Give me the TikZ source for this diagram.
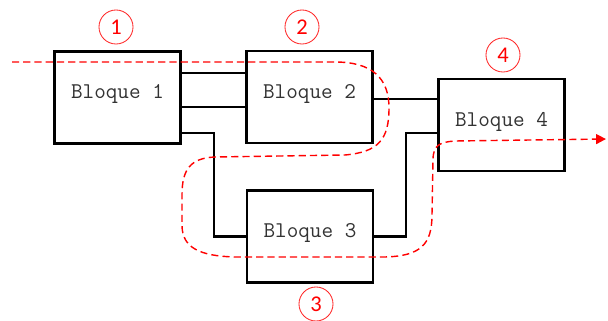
\documentclass[tikz,border=0pt]{standalone}
\usepackage{fontspec}
\newfontfamily\marcafont{Carlito}
\usetikzlibrary{arrows.meta}
\newcommand{\bloquefont}{\ttfamily\fontsize{16}{18}\selectfont}
\newcommand{\numfont}{\marcafont\fontsize{16}{18}\selectfont}
\begin{document}
\begin{tikzpicture}[x=0.025cm,y=-0.025cm,
	bloque/.style={draw=black,line width=1.5pt,minimum width=3.15cm,minimum height=2.3cm,text depth=8.5pt,font=\bloquefont,text=black!80},
	marca/.style={circle,draw=red!85,line width=0.6pt,text=red,minimum size=0.85cm,inner sep=0pt,font=\numfont},
	wire/.style={black,line width=1.5pt},
	flujo/.style={red,line width=1pt,dash pattern=on 5pt off 3pt,-{Triangle[length=7pt,width=7pt]}}]
	\useasboundingbox (0,0) rectangle (608,321);
	% Blocks
	\node[bloque] (b1) at (117.5,97.5) {Bloque 1};
	\node[bloque] (b2) at (309.5,97) {Bloque 2};
	\node[bloque] (b3) at (310,236.5) {Bloque 3};
	\node[bloque] (b4) at (501.5,125) {Bloque 4};
	% Wires
	\draw[wire] (b1.east |- 0,73) -- (b2.west |- 0,73);
	\draw[wire] (b1.east |- 0,107) -- (b2.west |- 0,107);
	\draw[wire] (b1.east |- 0,133) -| (214,236.5) -- (b3.west);
	\draw[wire] (b2.east |- 0,99) -- (b4.west |- 0,99);
	\draw[wire] (b3.east) -| (406,133) -- (b4.west |- 0,133);
	% Numbers
	\node[marca] (c1) at (116,27) {1};
	\node[marca] (c2) at (302,27) {2};
	\node[marca] (c3) at (316,304) {3};
	\node[marca] (c4) at (503,55) {4};
	% Path through the blocks
	\coordinate (ini) at (12,62);
	\coordinate (fin) at (606,139);
	\draw[flujo] (ini) -- (335,62) .. controls (372,62) and (389,78) .. (389,108)
		.. controls (389,140) and (378,152) .. (345,155) -- (215,157)
		.. controls (190,158) and (182,170) .. (182,195) -- (182,225)
		.. controls (182,248) and (200,256) .. (235,257) -- (385,257)
		.. controls (420,256) and (432,245) .. (432,215) -- (433,160)
		.. controls (433,145) and (440,142) .. (455,141) -- (fin);
\end{tikzpicture}
\end{document}
